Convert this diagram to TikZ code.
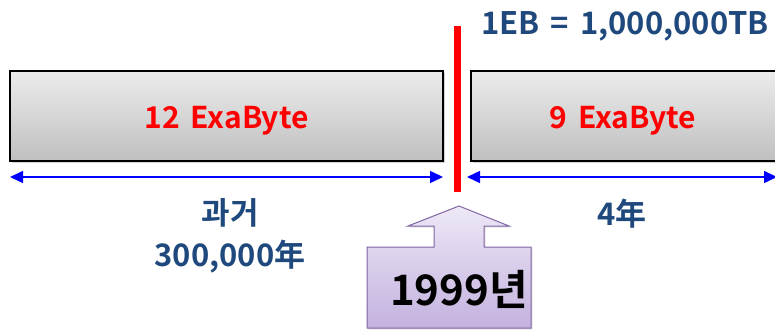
\documentclass[tikz,border=0pt]{standalone}
\usepackage{fontspec}
\setmainfont{Noto Sans CJK KR}[BoldFont={Noto Sans CJK KR Bold},WordSpace=1.6]
\usetikzlibrary{arrows.meta,shadows}
\definecolor{navy}{HTML}{1F497D}
\definecolor{lavtop}{HTML}{EEE8F7}
\definecolor{lavbot}{HTML}{C3B2DF}
\definecolor{purp}{HTML}{8064A2}
\begin{document}
\begin{tikzpicture}[x=1pt,y=-1pt,
  greybox/.style={draw=black,line width=1.2pt,top color=gray!15,bottom color=gray!50,drop shadow={shadow xshift=2pt,shadow yshift=-2pt,opacity=0.35}},
  redtxt/.style={text=red,font=\bfseries\fontsize{30}{34}\selectfont},
  navytxt/.style={text=navy,font=\bfseries\fontsize{31}{42}\selectfont,align=center},
  span/.style={draw=blue,line width=1.5pt,{Triangle[length=13pt,width=12pt]}-{Triangle[length=13pt,width=12pt]}}]
\useasboundingbox (0,0) rectangle (775,332);
\clip (0,0) rectangle (775,332);
\fill[white] (0,0) rectangle (775,332);
% boxes
\draw[greybox] (10,71) rectangle (443,161);
\draw[greybox] (471,71) rectangle (790,161);
\node[redtxt] (past) at (226.5,121) {12 ExaByte};
\node[redtxt] (now) at (623,121) {9 ExaByte};
% red divider
\coordinate (rtop) at (457,26);
\coordinate (rbot) at (457,192);
\draw[red,line width=7pt] (rtop) -- (rbot);
% spans
\coordinate (a1) at (10,177);
\coordinate (a2) at (443,177);
\coordinate (b1) at (467,177);
\coordinate (b2) at (777,177);
\draw[span] (a1) -- (a2);
\draw[span] (b1) -- (b2);
% labels
\node[navytxt] (eb) at (625,26) {1EB = 1,000,000TB};
\node[navytxt] (pastlbl) at (230,236) {과거\\300,000年};
\node[navytxt] (nowlbl) at (622,214) {4年};
% up arrow callout
\draw[purp,line width=1pt,top color=lavtop,bottom color=lavbot,drop shadow={shadow xshift=1.5pt,shadow yshift=-1.5pt,opacity=0.2}]
  (459,206) -- (509,226) -- (484,226) -- (484,247) -- (531,247) -- (531,328) -- (367,328) -- (367,247) -- (434,247) -- (434,226) -- (408,226) -- cycle;
\node[font=\bfseries\fontsize{42}{48}\selectfont] (yr) at (459,289) {1999년};
\end{tikzpicture}
\end{document}
